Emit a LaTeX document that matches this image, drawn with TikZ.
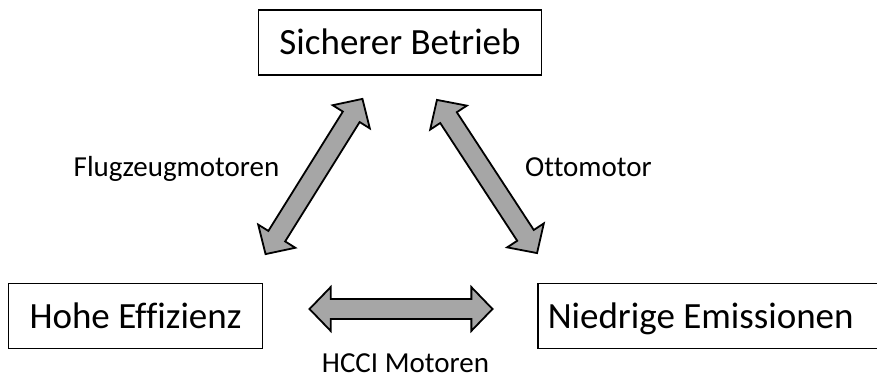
\documentclass[tikz,border=0pt]{standalone}
\usepackage{fontspec}
\setmainfont{Carlito}[Ligatures=CommonOff]
\usetikzlibrary{shapes.arrows, positioning}
\tikzset{
  zielbox/.style={draw, line width=1.5pt, inner xsep=21pt, minimum height=65pt,
    text height=28pt, text depth=3pt, font=\fontsize{37}{44}\selectfont},
  pfeil/.style={double arrow, draw, line width=1.8pt, fill=black!35,
    inner sep=9pt, minimum height=183pt, double arrow head extend=12pt,
    double arrow tip angle=92, sloped, anchor=center},
  weg/.style={font=\fontsize{29}{34}\selectfont, anchor=base}
}

\begin{document}
\begin{tikzpicture}[x=1pt, y=1pt]
  \useasboundingbox (0,0) rectangle (877,380);
  \node[zielbox] (sicher) at (400,337.5) {Sicherer Betrieb};
  \node[zielbox] (hohe) at (135.5,64) {Hohe Effizienz};
  \node[zielbox, anchor=west, inner xsep=10pt] (niedrig) at (537,64) {\makebox[335pt][l]{Niedrige Emissionen}};
  % Pfeilenden
  \coordinate (l1) at (265,125); \coordinate (l2) at (363,282);
  \coordinate (r1) at (437,280); \coordinate (r2) at (537,127);
  \coordinate (h1) at (310,71);  \coordinate (h2) at (492,71);
  \path (l1) -- node[pfeil] (flug) {} (l2);
  \path (r1) -- node[pfeil] (otto) {} (r2);
  \path (h1) -- node[pfeil] (hcci) {} (h2);
  \node[weg] at (176.5,203) {Flugzeugmotoren};
  \node[weg] at (588.5,203) {Ottomotor};
  \node[weg] at (405.5,8) {HCCI Motoren};
\end{tikzpicture}
\end{document}
